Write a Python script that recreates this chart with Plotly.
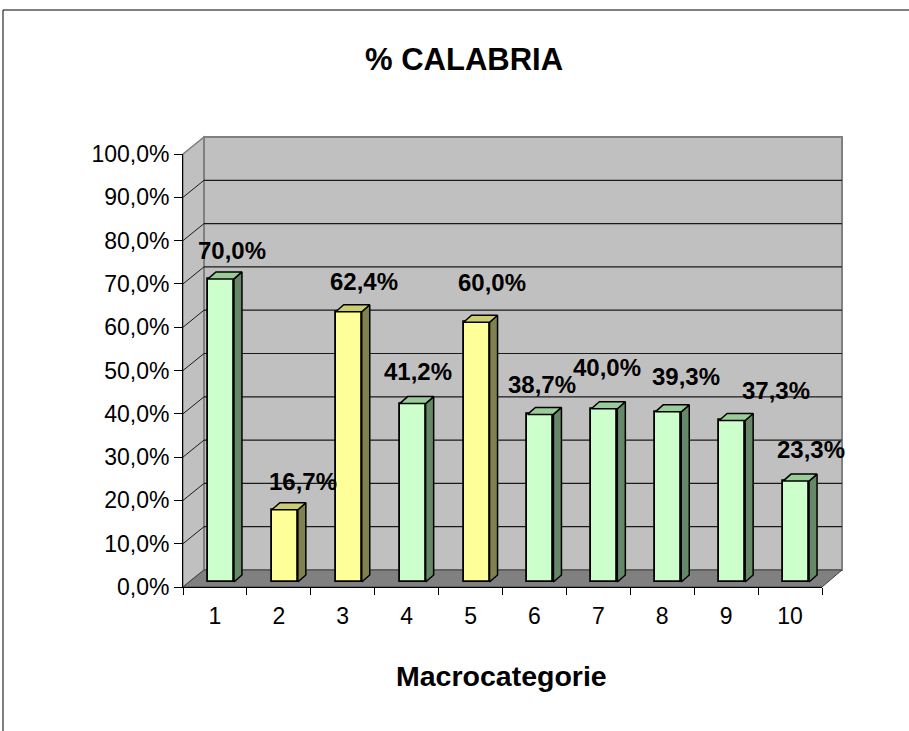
import plotly.graph_objects as go

# ---------------- data ----------------
categories = ["1", "2", "3", "4", "5", "6", "7", "8", "9", "10"]
values = [70.0, 16.7, 62.4, 41.2, 60.0, 38.7, 40.0, 39.3, 37.3, 23.3]
bar_group = ["green", "yellow", "yellow", "green", "yellow",
             "green", "green", "green", "green", "green"]
y_ticks = [0, 10, 20, 30, 40, 50, 60, 70, 80, 90, 100]
y_tick_labels = [f"{t:.1f}".replace(".", ",") + "%" for t in y_ticks]
title_text = "% CALABRIA"
x_title = "Macrocategorie"

# ---------------- style ----------------
FONT = "Liberation Sans, Arial, sans-serif"
COLORS = {
    "green": {"front": "#CCFFCC", "top": "#99CC99", "side": "#668866"},
    "yellow": {"front": "#FFFF99", "top": "#CCCC70", "side": "#808050"},
}
LABEL_DX = [11.5, 18, 15.5, 5, 15.5, 1.5, 3, 18, 44, 15]
LABEL_DY = [28, 28, 30, 32.6, 40, 29.5, 41, 35, 29.5, 32]

W, H = 909, 731
ML, MR, MT, MB = 183, 87, 154, 144
PW = W - ML - MR
PH = H - MT - MB
N = len(categories)
YMAX = y_ticks[-1]
XPX = PW / N          # px per category
YPX = PH / YMAX       # px per percent point

WALL_DX, WALL_DY = 21, 17     # depth of walls (px)
BAR_SHIFT_X, BAR_SHIFT_Y = 6, 5
BAR_W_PX = 26
BAR_DX, BAR_DY = 8, 7


def px(xp):
    return (xp - ML) / PW


def py(yp):
    return (H - MB - yp) / PH


def yf(v):
    return H - MB - v * YPX


x_front0, x_front1 = ML, ML + PW
x_back0, x_back1 = ML + WALL_DX, ML + PW + WALL_DX - 1

shapes = []
# chart border
shapes.append(dict(type="rect", xref="paper", yref="paper",
                   x0=px(3), x1=px(W + 10), y0=py(H + 10), y1=py(10),
                   line=dict(color="black", width=1), fillcolor="rgba(0,0,0,0)",
                   layer="below"))
# side wall
shapes.append(dict(type="path", xref="paper", yref="paper", layer="below",
                   path=f"M {px(x_front0)},{py(yf(0))} L {px(x_front0)},{py(yf(YMAX))} "
                        f"L {px(x_back0)},{py(yf(YMAX) - WALL_DY)} L {px(x_back0)},{py(yf(0) - WALL_DY)} Z",
                   fillcolor="#C0C0C0", line=dict(color="#808080", width=1.5)))
# back wall
shapes.append(dict(type="rect", xref="paper", yref="paper", layer="below",
                   x0=px(x_back0), x1=px(x_back1),
                   y0=py(yf(0) - WALL_DY), y1=py(yf(YMAX) - WALL_DY),
                   fillcolor="#C0C0C0", line=dict(color="#808080", width=2)))
# floor
shapes.append(dict(type="path", xref="paper", yref="paper", layer="below",
                   path=f"M {px(x_front0)},{py(yf(0))} L {px(x_back0)},{py(yf(0) - WALL_DY)} "
                        f"L {px(x_back1)},{py(yf(0) - WALL_DY)} L {px(x_front1)},{py(yf(0))} Z",
                   fillcolor="#808080", line=dict(color="#404040", width=1)))
# gridlines on walls
for v in y_ticks[1:]:
    col = "#808080" if v == YMAX else "#1a1a1a"
    yb = yf(v) - WALL_DY
    if v != YMAX:
        shapes.append(dict(type="line", xref="paper", yref="paper", layer="below",
                           x0=px(x_back0), x1=px(x_back1), y0=py(yb), y1=py(yb),
                           line=dict(color=col, width=1.2)))
    shapes.append(dict(type="line", xref="paper", yref="paper", layer="below",
                       x0=px(x_front0), x1=px(x_back0), y0=py(yf(v)), y1=py(yb),
                       line=dict(color=col, width=1)))

# ---------------- traces ----------------
bw = BAR_W_PX / XPX
ddx = BAR_DX / XPX
ddy = BAR_DY / YPX
xs = list(range(1, N + 1))

fig = go.Figure()
# invisible trace on the front axes so they are drawn (ticks / labels)
fig.add_trace(go.Scatter(x=categories, y=values, mode="markers",
                         marker=dict(opacity=0), hoverinfo="skip"))

fig.add_trace(go.Bar(
    x=xs, y=values, width=bw,
    marker=dict(color=[COLORS[g]["front"] for g in bar_group],
                line=dict(color="black", width=1.8)),
    xaxis="x2", yaxis="y2", hoverinfo="skip"))

for grp in ["green", "yellow"]:
    sx, sy, tx, ty = [], [], [], []
    for x, v, g in zip(xs, values, bar_group):
        if g != grp:
            continue
        xl, xr = x - bw / 2, x + bw / 2
        sx += [xr, xr + ddx, xr + ddx, xr, xr, None]
        sy += [0, ddy, v + ddy, v, 0, None]
        tx += [xl, xl + ddx, xr + ddx, xr, xl, None]
        ty += [v, v + ddy, v + ddy, v, v, None]
    fig.add_trace(go.Scatter(x=sx, y=sy, mode="lines", fill="toself",
                             fillcolor=COLORS[grp]["side"],
                             line=dict(color="black", width=1.5),
                             xaxis="x2", yaxis="y2", hoverinfo="skip"))
    fig.add_trace(go.Scatter(x=tx, y=ty, mode="lines", fill="toself",
                             fillcolor=COLORS[grp]["top"],
                             line=dict(color="black", width=1.5),
                             xaxis="x2", yaxis="y2", hoverinfo="skip"))

annotations = []
for i, (x, v) in enumerate(zip(xs, values)):
    annotations.append(dict(
        x=x, y=v, xref="x2", yref="y2", showarrow=False,
        text=f"{v:.1f}".replace(".", ",") + "%",
        xanchor="center", yanchor="middle",
        xshift=LABEL_DX[i], yshift=LABEL_DY[i],
        font=dict(family=FONT, size=24, color="black", weight="bold")))
annotations.append(dict(x=px(464), y=py(60), xref="paper", yref="paper",
                        showarrow=False, text=title_text,
                        xanchor="center", yanchor="middle",
                        font=dict(family=FONT, size=31, color="black", weight="bold")))
annotations.append(dict(x=px(501.5), y=py(676), xref="paper", yref="paper",
                        showarrow=False, text=x_title,
                        xanchor="center", yanchor="middle",
                        font=dict(family=FONT, size=28.5, color="black", weight="bold")))

shift_x = BAR_SHIFT_X / XPX
shift_y = BAR_SHIFT_Y / YPX

fig.update_layout(
    width=W, height=H,
    margin=dict(l=ML, r=MR, t=MT, b=MB, pad=0),
    paper_bgcolor="white", plot_bgcolor="rgba(0,0,0,0)",
    showlegend=False,
    font=dict(family=FONT, size=23, color="black"),
    shapes=shapes, annotations=annotations,
    bargap=0,
    xaxis=dict(type="category", categoryorder="array", categoryarray=categories,
               range=[-0.5, N - 0.5], tickson="boundaries", ticks="outside",
               ticklen=7, tickwidth=1, tickcolor="black", showline=True,
               linecolor="black", linewidth=1, showgrid=False, zeroline=False,
               ticklabelstandoff=8,
               tickfont=dict(family=FONT, size=23, color="black"),
               fixedrange=True),
    yaxis=dict(range=[0, YMAX], tickvals=y_ticks, ticktext=y_tick_labels,
               ticks="outside", ticklen=8, tickwidth=1, tickcolor="black",
               showline=True, linecolor="black", linewidth=1, showgrid=False,
               zeroline=False, tickfont=dict(family=FONT, size=23, color="black"),
               fixedrange=True),
    xaxis2=dict(overlaying="x", anchor="y2", range=[0.5 - shift_x, N + 0.5 - shift_x],
                visible=False, fixedrange=True),
    yaxis2=dict(overlaying="y", anchor="x2", range=[-shift_y, YMAX - shift_y],
                visible=False, fixedrange=True),
)

fig.write_html("out.html", config={"displayModeBar": False},
               post_script="document.body.style.margin='0px';")
